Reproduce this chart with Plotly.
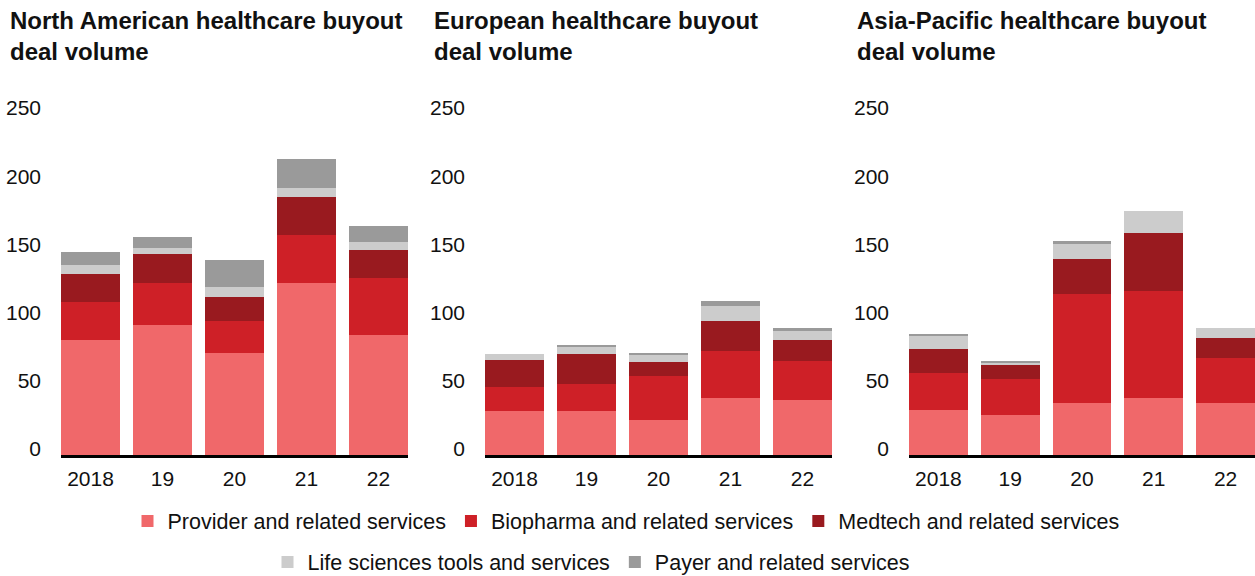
import plotly.graph_objects as go

years = ["2018", "19", "20", "21", "22"]
segments = ["Provider and related services", "Biopharma and related services",
            "Medtech and related services", "Life sciences tools and services",
            "Payer and related services"]
colors = ["#F0686A", "#CE2027", "#991A1F", "#CCCCCC", "#9A9A9A"]

titles = ["North American healthcare buyout<br>deal volume",
          "European healthcare buyout<br>deal volume",
          "Asia-Pacific healthcare buyout<br>deal volume"]

# North America
na_provider = [84, 95, 75, 126, 88]
na_biopharma = [28, 31, 23, 35, 42]
na_medtech = [21, 21, 18, 28, 20]
na_life = [6, 5, 7, 7, 6]
na_payer = [10, 8, 20, 21, 12]

# Europe
eu_provider = [32, 32, 26, 42, 40]
eu_biopharma = [18, 20, 32, 34, 29]
eu_medtech = [20, 22, 10, 22, 15]
eu_life = [4, 5, 5, 11, 7]
eu_payer = [0, 2, 2, 4, 2]

# Asia-Pacific
ap_provider = [33, 29, 38, 42, 38]
ap_biopharma = [27, 27, 80, 78, 33]
ap_medtech = [18, 10, 26, 43, 15]
ap_life = [9, 2, 11, 16, 7]
ap_payer = [2, 1, 2, 0, 0]

regions = [
    [na_provider, na_biopharma, na_medtech, na_life, na_payer],
    [eu_provider, eu_biopharma, eu_medtech, eu_life, eu_payer],
    [ap_provider, ap_biopharma, ap_medtech, ap_life, ap_payer],
]

W, H = 1255, 576
FONT = "Liberation Sans, Arial, sans-serif"

fig = go.Figure()
for r, series in enumerate(regions):
    ax = "" if r == 0 else str(r + 1)
    for s, vals in enumerate(series):
        fig.add_trace(go.Bar(
            x=years, y=vals, name=segments[s],
            marker=dict(color=colors[s], line=dict(width=0)),
            xaxis="x" + ax, yaxis="y" + ax,
            legendgroup=segments[s], showlegend=(r == 0),
            legend="legend" if s < 3 else "legend2",
        ))

x_domains = [[61 / W, 408 / W], [485 / W, 832 / W], [909 / W, 1.0]]
y_domain = [(H - 455) / H, (H - 114) / H]
title_x = [8, 432, 855]

layout = dict(
    width=W, height=H,
    margin=dict(l=0, r=0, t=0, b=0, autoexpand=False),
    paper_bgcolor="white", plot_bgcolor="white",
    barmode="stack", bargap=0.18,
    font=dict(family=FONT, size=21, color="#111111"),
    legend=dict(orientation="h", x=626 / W, xanchor="center",
                y=(H - 521) / H, yanchor="middle",
                font=dict(size=21.5, family=FONT, color="#111111"),
                traceorder="normal"),
    legend2=dict(orientation="h", x=591 / W, xanchor="center",
                 y=(H - 562) / H, yanchor="middle",
                 font=dict(size=21.5, family=FONT, color="#111111"),
                 traceorder="normal"),
)
for r in range(3):
    ax = "" if r == 0 else str(r + 1)
    layout["xaxis" + ax] = dict(
        domain=x_domains[r], anchor="y" + ax, type="category",
        range=[-0.41, 4.41], showline=True, linecolor="black", linewidth=2.5,
        ticks="", showgrid=False, zeroline=False, fixedrange=True,
        automargin=False,
        tickfont=dict(size=21, family=FONT, color="#111111"),
        ticklabelstandoff=3,
    )
    layout["yaxis" + ax] = dict(
        domain=y_domain, anchor="x" + ax, range=[0, 250],
        tickvals=[0, 50, 100, 150, 200, 250], showline=False,
        showgrid=False, zeroline=False, ticks="", fixedrange=True,
        automargin=False,
        tickfont=dict(size=21, family=FONT, color="#111111"),
        ticklabelstandoff=19, ticklabelshift=-6,
    )
fig.update_layout(**layout)

for r in range(3):
    fig.add_annotation(
        text="<b>" + titles[r] + "</b>", xref="paper", yref="paper",
        x=title_x[r] / W, y=1 - 5 / H, xanchor="left", yanchor="top",
        align="left", showarrow=False,
        font=dict(size=24, family=FONT, color="#111111"),
    )

fig.write_html(
    "out.html",
    config={"displayModeBar": False},
    post_script="document.body.style.margin='0';document.body.style.overflow='hidden';",
)
